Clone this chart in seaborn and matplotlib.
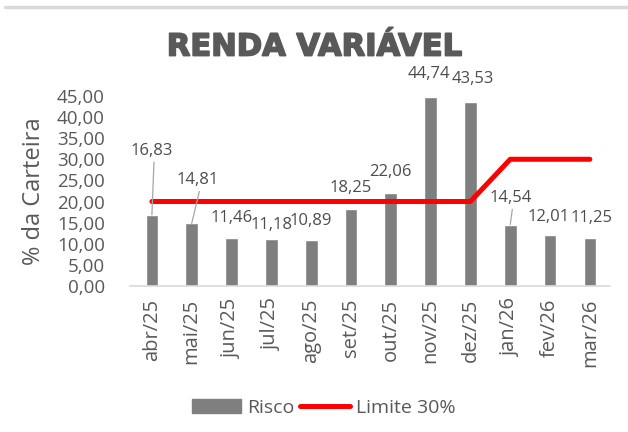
import pandas as pd
import matplotlib.pyplot as plt
import matplotlib.patheffects as pe
import seaborn as sns
from matplotlib.lines import Line2D
from matplotlib.patches import Patch

# Data
meses = ["abr/25", "mai/25", "jun/25", "jul/25", "ago/25", "set/25",
         "out/25", "nov/25", "dez/25", "jan/26", "fev/26", "mar/26"]
risco = [16.83, 14.81, 11.46, 11.18, 10.89, 18.25, 22.06, 44.74, 43.53, 14.54, 12.01, 11.25]
limite = [20, 20, 20, 20, 20, 20, 20, 20, 20, 30, 30, 30]

# label offsets (points, label centre relative to bar top), as placed in the original
label_dx = [0, 4, 0, 0, 0, 0, 0, -1, 2, 0, -1, 1]
label_dy = [46, 31, 14, 10, 14, 15, 15, 16.5, 17, 19, 13, 14.5]
leader = [True, True, False, False, False, False, False, False, False, True, False, False]

df = pd.DataFrame({"mes": meses, "risco": risco, "limite": limite})

sns.set_style("white")
plt.rcParams["font.family"] = ["Open Sans", "DejaVu Sans"]
txt = "#595959"

fig = plt.figure(figsize=(6.28, 4.32), dpi=100)
ax = fig.add_axes([0.207, 0.338, 0.764, 0.44])

sns.barplot(data=df, x="mes", y="risco", color="#7f7f7f", width=0.32,
            saturation=1, ax=ax)
sns.lineplot(data=df, x="mes", y="limite", color="#ff0000", lw=3.6,
             sort=False, ax=ax, solid_capstyle="round")

for i, v in enumerate(risco):
    lab = f"{v:.2f}".replace(".", ",")
    ax.annotate(lab, (i, v), xytext=(label_dx[i], label_dy[i]),
                textcoords="offset points", ha="center", va="center",
                fontsize=12, color="#4d4d4d")
    if leader[i]:
        ax.annotate("", (i, v), xytext=(label_dx[i] + 1.5, label_dy[i] - 8),
                    textcoords="offset points",
                    arrowprops=dict(arrowstyle="-", color="#a6a6a6", lw=0.9,
                                    shrinkA=0, shrinkB=0))

ax.set_ylim(0, 45)
ax.set_xlim(-0.55, 11.5)
ax.set_yticks(range(0, 50, 5))
ax.set_yticklabels([f"{t:.2f}".replace(".", ",") for t in range(0, 50, 5)],
                   fontsize=13.5, color=txt)
ax.tick_params(axis="x", labelrotation=90, labelsize=14.5, labelcolor=txt, length=0, pad=9)
ax.tick_params(axis="y", length=0, pad=18)
ax.set_xlabel("")
ax.set_ylabel("% da Carteira", fontsize=17, color=txt, labelpad=8)

for s in ["top", "right", "left"]:
    ax.spines[s].set_visible(False)
ax.spines["bottom"].set_color("#d9d9d9")
ax.spines["bottom"].set_linewidth(1.2)

# heavy title
fig.text(0.5, 0.891, "RENDA VARIÁVEL", ha="center", va="center", fontsize=22,
         fontweight="bold", color="#595959", family=["DejaVu Sans"],
         path_effects=[pe.Stroke(linewidth=1.2, foreground="#595959",
                                 joinstyle="round", capstyle="round"),
                       pe.Normal()])

# border line at top
fig.add_artist(Line2D([0.008, 1.0], [0.984, 0.984], color="#d9d9d9", lw=2.5))

handles = [Patch(color="#7f7f7f", label="Risco"),
           Line2D([0], [0], color="#ff0000", lw=3.6, solid_capstyle="round", label="Limite 30%")]
fig.legend(handles=handles, loc="center", bbox_to_anchor=(0.515, 0.056), ncol=2,
           frameon=False, fontsize=14, labelcolor=txt, handlelength=2.55,
           handleheight=0.67, handletextpad=0.3, columnspacing=0.3)

fig.savefig("out.png", dpi=100)
